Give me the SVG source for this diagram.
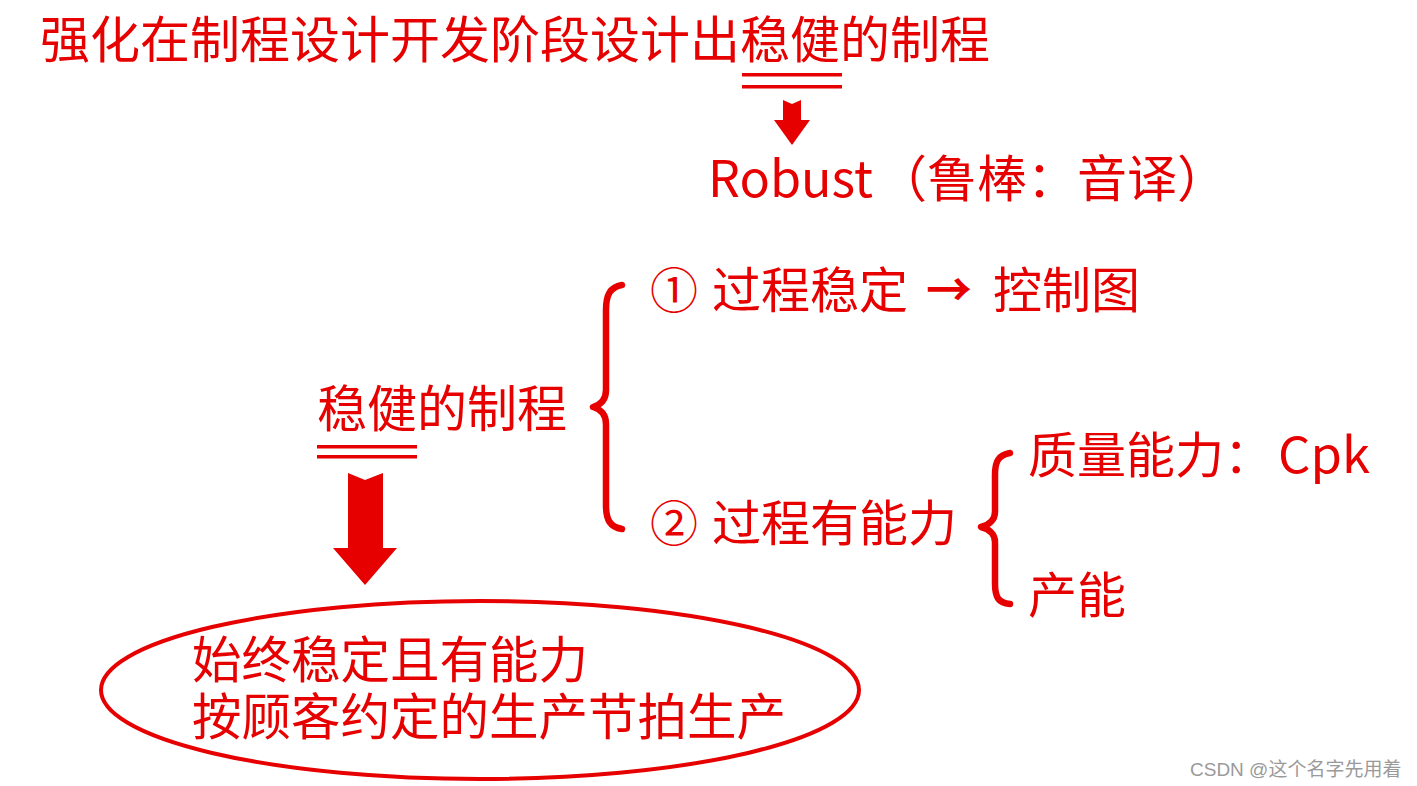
<svg xmlns="http://www.w3.org/2000/svg" width="1417" height="786" viewBox="0 0 1417 786">
<style>
.t{font-family:"Noto Sans CJK SC","Liberation Sans",sans-serif;fill:#e60000;}
.ln{fill:#e60000;}
.br{fill:none;stroke:#e60000;stroke-width:6.5;stroke-linecap:round;stroke-linejoin:round;}
.wm{font-family:"Liberation Sans","Noto Sans CJK SC",sans-serif;fill:#9a9a9a;font-size:19px;}
</style>
<rect width="1417" height="786" fill="#ffffff"/>
<g id="title">
<text class="t" x="40" y="58" font-size="50">强化在制程设计开发阶段设计出稳健的制程</text>
<rect class="ln" x="742" y="73" width="100" height="3.5"/>
<rect class="ln" x="742" y="85" width="100" height="3.5"/>
</g>
<g id="robust">
<text class="t" x="708" y="197" font-size="50" textLength="165" lengthAdjust="spacingAndGlyphs">Robust</text>
<text class="t" x="877" y="197" font-size="50">（鲁棒：音译）</text>
</g>
<g id="robust-process">
<text class="t" x="317" y="427" font-size="50">稳健的制程</text>
<rect class="ln" x="317" y="445" width="100" height="3.5"/>
<rect class="ln" x="317" y="455" width="100" height="3.5"/>
</g>
<g id="stable">
<text class="t" x="650" y="308" font-size="48">①</text>
<text class="t" x="712" y="308" font-size="49">过程稳定</text>
<text class="t" x="926" y="306" font-size="46" font-weight="bold">→</text>
<text class="t" x="993" y="308" font-size="49">控制图</text>
</g>
<g id="capable">
<text class="t" x="650" y="541" font-size="48">②</text>
<text class="t" x="712" y="541" font-size="49">过程有能力</text>
</g>
<g id="quality">
<text class="t" x="1028" y="473" font-size="49">质量能力：</text>
<text class="t" x="1278" y="473" font-size="49" textLength="92" lengthAdjust="spacingAndGlyphs">Cpk</text>
</g>
<g id="capacity">
<text class="t" x="1028" y="613" font-size="49">产能</text>
</g>
<g id="result">
<ellipse cx="480" cy="690" rx="379" ry="89" fill="none" stroke="#e60000" stroke-width="4"/>
<text class="t" font-size="49.5"><tspan x="192" y="678">始终稳定且有能力</tspan><tspan x="192" y="735">按顾客约定的生产节拍生产</tspan></text>
</g>
<g id="connectors">
<path class="ln" d="M783 100 L792 104 L801 100 L801 120 L810 120 L792 145 L774 120 L783 120 Z"/>
<path class="ln" d="M348 473 L365 480 L383 473 L383 548 L397 548 L365 585 L333 548 L348 548 Z"/>
<path class="br" d="M622 285 C610 287 606 295 606 310 L606 390 C606 400 600 405 593 407 C600 409 606 414 606 424 L606 505 C606 520 610 527 622 529"/>
<path class="br" d="M1010 453 C998 455 995 462 995 475 L995 512 C995 520 989 525 981 527 C989 529 995 534 995 542 L995 583 C995 597 998 603 1010 604"/>
</g>
<text class="wm" x="1190" y="776">CSDN @这个名字先用着</text>
</svg>
